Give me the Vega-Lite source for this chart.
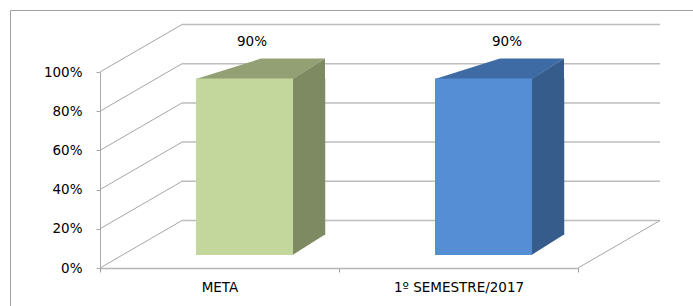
{
  "$schema": "https://vega.github.io/schema/vega-lite/v6.json",
  "width": 690,
  "height": 303,
  "autosize": {"type": "none"},
  "padding": {"left": 10, "top": 10, "right": -7, "bottom": -7},
  "background": "white",
  "config": {"view": {"stroke": "#a0a0a0", "strokeWidth": 1}, "font": "DejaVu Sans"},
  "datasets": {
    "bars": [
      {"cat": "META", "value": 0.9},
      {"cat": "1º SEMESTRE/2017", "value": 0.9}
    ],
    "grid": [{"v": 0}, {"v": 0.2}, {"v": 0.4}, {"v": 0.6}, {"v": 0.8}, {"v": 1}]
  },
  "layer": [
    {
      "data": {"name": "grid"},
      "mark": {"type": "rule", "color": "#bdbdbd", "strokeWidth": 1.5, "xOffset": 82, "x2Offset": 82, "yOffset": -47.5},
      "encoding": {
        "x": {
          "datum": "META", "type": "nominal", "bandPosition": 0, "title": null,
          "scale": {"domain": ["META", "1º SEMESTRE/2017"], "range": [90, 568], "paddingInner": 0, "paddingOuter": 0},
          "axis": {"offset": -45, "domainColor": "#b5b5b5", "domainWidth": 1.5, "tickBand": "extent", "tickColor": "#9a9a9a", "tickSize": 4, "labelFont": "DejaVu Sans", "labelFontSize": 13.5, "labelColor": "#000000", "labelPadding": 8, "labelAngle": 0, "grid": false}
        },
        "x2": {"datum": "1º SEMESTRE/2017", "bandPosition": 1},
        "y": {
          "field": "v", "type": "quantitative", "title": null,
          "scale": {"domain": [0, 1], "range": [258, 62], "nice": false},
          "axis": {"offset": -90, "values": [0, 0.2, 0.4, 0.6, 0.8, 1], "format": ".0%", "grid": false, "domainColor": "#aaaaaa", "tickColor": "#aaaaaa", "tickSize": 4, "labelFont": "DejaVu Sans", "labelFontSize": 13.5, "labelColor": "#000000", "labelPadding": 14}
        }
      }
    },
    {
      "data": {"name": "grid"},
      "mark": {"type": "rule", "color": "#a6a6a6", "strokeWidth": 1, "x2Offset": 82, "y2Offset": -47.5},
      "encoding": {
        "x": {"datum": "META", "type": "nominal", "bandPosition": 0, "title": null},
        "x2": {"datum": "META", "bandPosition": 0},
        "y": {"field": "v", "type": "quantitative", "title": null},
        "y2": {"field": "v"}
      }
    },
    {
      "data": {"name": "grid"},
      "transform": [{"filter": "datum.v === 0"}],
      "mark": {"type": "rule", "color": "#a6a6a6", "strokeWidth": 1, "x2Offset": 82, "y2Offset": -47.5},
      "encoding": {
        "x": {"datum": "1º SEMESTRE/2017", "type": "nominal", "bandPosition": 1, "title": null},
        "x2": {"datum": "1º SEMESTRE/2017", "bandPosition": 1},
        "y": {"field": "v", "type": "quantitative", "title": null},
        "y2": {"field": "v"}
      }
    },
    {
      "data": {"name": "bars"},
      "mark": {"type": "bar", "width": 32.5, "xOffset": 89.5, "yOffset": -13, "y2Offset": -33},
      "encoding": {
        "x": {"field": "cat", "type": "nominal", "title": null},
        "y": {"field": "value", "type": "quantitative", "title": null},
        "y2": {"datum": 0},
        "color": {"condition": {"test": "datum.cat === 'META'", "value": "#7e8b62"}, "value": "#365c8c"}
      }
    },
    {
      "data": {"name": "bars"},
      "mark": {"type": "point", "shape": "M 0.48 0.005 L 0.805 -0.2 L 0.805 0.005 Z", "size": 40000, "filled": true, "opacity": 1, "strokeWidth": 0, "xOffset": 25, "yOffset": -13},
      "encoding": {
        "x": {"field": "cat", "type": "nominal", "title": null},
        "y": {"field": "value", "type": "quantitative", "title": null},
        "color": {"condition": {"test": "datum.cat === 'META'", "value": "#7e8b62"}, "value": "#365c8c"}
      }
    },
    {
      "data": {"name": "bars"},
      "mark": {"type": "point", "shape": "M 0.48 -0.205 L 0.48 0 L 0.805 -0.205 Z", "size": 40000, "filled": true, "opacity": 1, "strokeWidth": 0, "xOffset": 25, "yOffset": -13},
      "encoding": {
        "x": {"field": "cat", "type": "nominal", "title": null},
        "y": {"datum": 0, "type": "quantitative", "title": null},
        "color": {"condition": {"test": "datum.cat === 'META'", "value": "#7e8b62"}, "value": "#365c8c"}
      }
    },
    {
      "data": {"name": "bars"},
      "mark": {"type": "point", "shape": "M -0.485 0.005 L 0.485 0.005 L 0.805 -0.2 L 0.165 -0.2 Z", "size": 40000, "filled": true, "opacity": 1, "strokeWidth": 0, "xOffset": 25, "yOffset": -13},
      "encoding": {
        "x": {"field": "cat", "type": "nominal", "title": null},
        "y": {"field": "value", "type": "quantitative", "title": null},
        "color": {"condition": {"test": "datum.cat === 'META'", "value": "#93a074"}, "value": "#3e6ba3"}
      }
    },
    {
      "data": {"name": "bars"},
      "mark": {"type": "bar", "width": 97, "xOffset": 25, "yOffset": -13, "y2Offset": -13},
      "encoding": {
        "x": {"field": "cat", "type": "nominal", "title": null},
        "y": {"field": "value", "type": "quantitative", "title": null},
        "y2": {"datum": 0},
        "color": {"condition": {"test": "datum.cat === 'META'", "value": "#c3d69b"}, "value": "#558ed5"}
      }
    },
    {
      "data": {"name": "bars"},
      "transform": [{"filter": "datum.cat === 'META'"}],
      "mark": {"type": "text", "font": "DejaVu Sans", "fontSize": 13.5, "color": "#000000", "baseline": "middle", "align": "center", "dx": 32.5, "dy": -49.6},
      "encoding": {
        "x": {"field": "cat", "type": "nominal", "title": null},
        "y": {"field": "value", "type": "quantitative", "title": null},
        "text": {"field": "value", "type": "quantitative", "format": ".0%"}
      }
    },
    {
      "data": {"name": "bars"},
      "transform": [{"filter": "datum.cat !== 'META'"}],
      "mark": {"type": "text", "font": "DejaVu Sans", "fontSize": 13.5, "color": "#000000", "baseline": "middle", "align": "center", "dx": 48.5, "dy": -49.6},
      "encoding": {
        "x": {"field": "cat", "type": "nominal", "title": null},
        "y": {"field": "value", "type": "quantitative", "title": null},
        "text": {"field": "value", "type": "quantitative", "format": ".0%"}
      }
    }
  ]
}
